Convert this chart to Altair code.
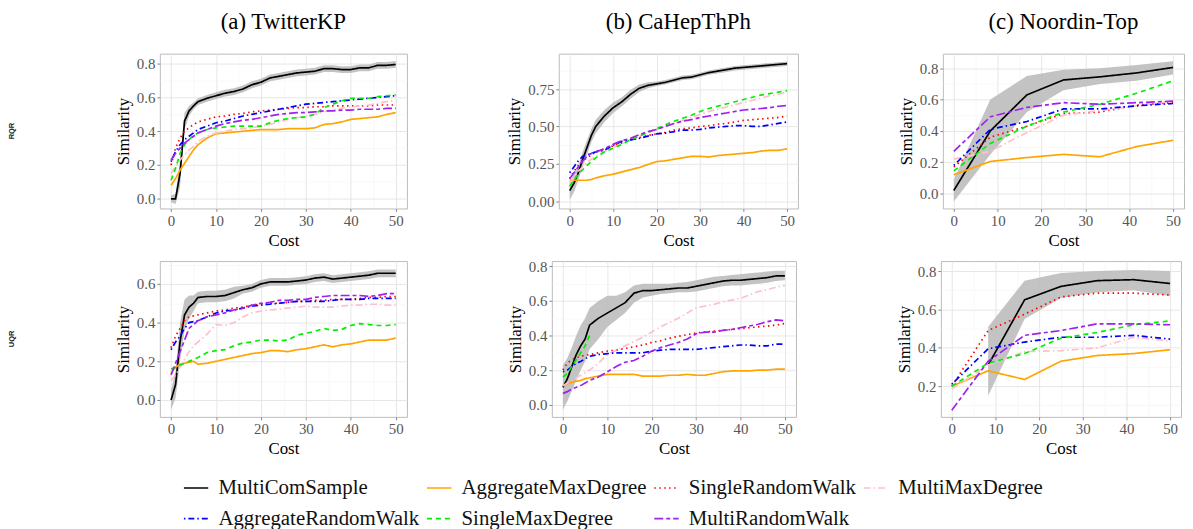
import json
import pandas as pd
import altair as alt

FONT = "Liberation Serif"

METHODS = ["MultiComSample", "AggregateMaxDegree", "SingleRandomWalk", "MultiMaxDegree",
           "AggregateRandomWalk", "SingleMaxDegree", "MultiRandomWalk"]
COLORS = ["#000000", "#FFA500", "#FF0000", "#FFC0CB", "#0000FF", "#00EE00", "#A020F0"]
DASHES = [[1, 0], [1, 0], [1.5, 3.5], [7, 3, 1.5, 3], [1.5, 3, 6, 3], [5, 4], [9, 3, 4, 3]]

X_MAJOR = [0, 10, 20, 30, 40, 50]
X_MINOR = [5, 15, 25, 35, 45]

XA = [0, 1, 2, 3, 4, 5, 6, 8, 10, 12, 14, 16, 18, 20, 22, 24, 26, 28, 30, 32, 34, 36, 38, 40, 42, 44, 46, 48, 50]
XN = [0, 8.33, 16.67, 25, 33.33, 41.67, 50]

# ---------------- RQR / TwitterKP ----------------
A1 = {
    "MultiComSample": [0.0, 0.0, 0.15, 0.46, 0.52, 0.55, 0.575, 0.595, 0.61, 0.625, 0.635, 0.65, 0.675, 0.69, 0.715,
                       0.725, 0.735, 0.745, 0.75, 0.755, 0.77, 0.77, 0.765, 0.765, 0.775, 0.775, 0.79, 0.79, 0.795],
    "AggregateMaxDegree": [0.08, 0.12, 0.17, 0.21, 0.25, 0.29, 0.32, 0.36, 0.385, 0.39, 0.395, 0.40, 0.405, 0.41, 0.41,
                           0.41, 0.415, 0.415, 0.415, 0.42, 0.44, 0.445, 0.455, 0.47, 0.475, 0.48, 0.485, 0.50, 0.51],
    "SingleRandomWalk": [0.20, 0.30, 0.36, 0.40, 0.42, 0.44, 0.455, 0.47, 0.485, 0.49, 0.50, 0.505, 0.515, 0.52, 0.525,
                         0.53, 0.535, 0.54, 0.54, 0.545, 0.545, 0.55, 0.55, 0.55, 0.55, 0.55, 0.555, 0.555, 0.555],
    "MultiMaxDegree": [0.15, 0.19, 0.23, 0.26, 0.29, 0.31, 0.34, 0.37, 0.39, 0.40, 0.41, 0.415, 0.42, 0.43, 0.44,
                       0.455, 0.47, 0.48, 0.49, 0.50, 0.515, 0.525, 0.535, 0.545, 0.55, 0.555, 0.565, 0.575, 0.58],
    "AggregateRandomWalk": [0.22, 0.28, 0.32, 0.35, 0.37, 0.39, 0.41, 0.43, 0.45, 0.46, 0.475, 0.49, 0.50, 0.51, 0.52,
                            0.53, 0.54, 0.55, 0.56, 0.565, 0.57, 0.575, 0.58, 0.585, 0.59, 0.595, 0.60, 0.605, 0.61],
    "SingleMaxDegree": [0.11, 0.18, 0.27, 0.32, 0.35, 0.375, 0.39, 0.41, 0.42, 0.425, 0.43, 0.43, 0.43, 0.43, 0.45,
                        0.465, 0.475, 0.48, 0.485, 0.50, 0.54, 0.56, 0.58, 0.595, 0.595, 0.595, 0.605, 0.61, 0.615],
    "MultiRandomWalk": [0.23, 0.27, 0.30, 0.33, 0.35, 0.37, 0.39, 0.41, 0.43, 0.445, 0.455, 0.465, 0.47, 0.48, 0.49,
                        0.50, 0.505, 0.51, 0.51, 0.515, 0.52, 0.52, 0.525, 0.525, 0.53, 0.53, 0.53, 0.535, 0.535],
}
A1_HALF = [0.02, 0.03, 0.08, 0.05, 0.03, 0.02, 0.02, 0.02, 0.02, 0.02, 0.02, 0.02, 0.02, 0.02, 0.02,
           0.02, 0.02, 0.02, 0.02, 0.02, 0.02, 0.02, 0.02, 0.02, 0.02, 0.02, 0.02, 0.02, 0.02]

# ---------------- RQR / CaHepThPh ----------------
B1 = {
    "MultiComSample": [0.07, 0.12, 0.19, 0.28, 0.36, 0.44, 0.50, 0.57, 0.625, 0.665, 0.715, 0.755, 0.775, 0.785, 0.795,
                       0.81, 0.825, 0.83, 0.845, 0.86, 0.87, 0.88, 0.89, 0.895, 0.90, 0.905, 0.91, 0.915, 0.92],
    "AggregateMaxDegree": [0.14, 0.14, 0.14, 0.14, 0.14, 0.145, 0.155, 0.17, 0.18, 0.195, 0.21, 0.225, 0.245, 0.265, 0.27,
                           0.28, 0.29, 0.30, 0.30, 0.295, 0.305, 0.31, 0.315, 0.32, 0.325, 0.335, 0.34, 0.34, 0.35],
    "SingleRandomWalk": [0.15, 0.20, 0.24, 0.27, 0.29, 0.31, 0.33, 0.35, 0.37, 0.39, 0.41, 0.425, 0.44, 0.45, 0.46,
                         0.475, 0.485, 0.49, 0.50, 0.505, 0.515, 0.52, 0.53, 0.54, 0.545, 0.55, 0.555, 0.56, 0.57],
    "MultiMaxDegree": [0.12, 0.16, 0.20, 0.23, 0.26, 0.28, 0.30, 0.33, 0.36, 0.385, 0.41, 0.435, 0.46, 0.48, 0.50,
                       0.52, 0.54, 0.56, 0.58, 0.60, 0.615, 0.63, 0.645, 0.66, 0.675, 0.69, 0.705, 0.715, 0.73],
    "AggregateRandomWalk": [0.19, 0.23, 0.27, 0.30, 0.31, 0.32, 0.33, 0.34, 0.375, 0.40, 0.41, 0.42, 0.435, 0.45, 0.455,
                            0.465, 0.475, 0.475, 0.48, 0.49, 0.495, 0.50, 0.505, 0.505, 0.50, 0.50, 0.51, 0.52, 0.53],
    "SingleMaxDegree": [0.10, 0.14, 0.18, 0.21, 0.24, 0.265, 0.29, 0.33, 0.355, 0.38, 0.41, 0.435, 0.46, 0.485, 0.51,
                        0.535, 0.555, 0.575, 0.60, 0.62, 0.635, 0.65, 0.665, 0.68, 0.695, 0.71, 0.72, 0.73, 0.74],
    "MultiRandomWalk": [0.15, 0.19, 0.23, 0.27, 0.30, 0.32, 0.33, 0.35, 0.38, 0.405, 0.42, 0.445, 0.465, 0.48, 0.50,
                        0.52, 0.535, 0.545, 0.56, 0.57, 0.58, 0.59, 0.60, 0.61, 0.615, 0.62, 0.625, 0.635, 0.64],
}
B1_HALF = [0.06, 0.06, 0.05, 0.05, 0.05, 0.045, 0.045, 0.04, 0.035, 0.03, 0.03, 0.025, 0.02, 0.015, 0.015,
           0.015, 0.015, 0.015, 0.015, 0.015, 0.015, 0.015, 0.015, 0.015, 0.015, 0.015, 0.015, 0.015, 0.015]

# ---------------- RQR / Noordin-Top ----------------
C1 = {
    "MultiComSample": [0.02, 0.40, 0.63, 0.725, 0.745, 0.77, 0.805],
    "AggregateMaxDegree": [0.12, 0.205, 0.23, 0.25, 0.235, 0.30, 0.34],
    "SingleRandomWalk": [0.17, 0.36, 0.43, 0.51, 0.52, 0.565, 0.58],
    "MultiMaxDegree": [0.22, 0.27, 0.39, 0.50, 0.53, 0.56, 0.59],
    "AggregateRandomWalk": [0.18, 0.41, 0.46, 0.54, 0.54, 0.56, 0.575],
    "SingleMaxDegree": [0.145, 0.32, 0.43, 0.52, 0.57, 0.64, 0.72],
    "MultiRandomWalk": [0.27, 0.49, 0.55, 0.58, 0.57, 0.58, 0.59],
}
C1_LO = [-0.05, 0.25, 0.52, 0.66, 0.70, 0.72, 0.76]
C1_HI = [0.09, 0.60, 0.75, 0.79, 0.80, 0.82, 0.845]

# ---------------- UQR / TwitterKP ----------------
A2 = {
    "MultiComSample": [0.0, 0.08, 0.30, 0.44, 0.48, 0.50, 0.53, 0.535, 0.535, 0.54, 0.555, 0.57, 0.58, 0.60, 0.61,
                       0.61, 0.61, 0.615, 0.62, 0.63, 0.635, 0.625, 0.63, 0.635, 0.64, 0.645, 0.655, 0.655, 0.655],
    "AggregateMaxDegree": [0.14, 0.17, 0.185, 0.19, 0.195, 0.20, 0.185, 0.19, 0.20, 0.21, 0.22, 0.23, 0.24, 0.245, 0.255,
                           0.255, 0.25, 0.26, 0.265, 0.275, 0.285, 0.275, 0.285, 0.29, 0.30, 0.31, 0.31, 0.31, 0.32],
    "SingleRandomWalk": [0.27, 0.33, 0.37, 0.41, 0.43, 0.435, 0.44, 0.45, 0.46, 0.465, 0.475, 0.48, 0.49, 0.495, 0.50,
                         0.50, 0.505, 0.51, 0.51, 0.515, 0.515, 0.52, 0.52, 0.52, 0.525, 0.53, 0.53, 0.535, 0.535],
    "MultiMaxDegree": [0.10, 0.13, 0.17, 0.21, 0.25, 0.28, 0.30, 0.34, 0.39, 0.385, 0.40, 0.43, 0.45, 0.46, 0.465,
                       0.47, 0.475, 0.48, 0.485, 0.48, 0.48, 0.48, 0.485, 0.49, 0.49, 0.495, 0.495, 0.49, 0.49],
    "AggregateRandomWalk": [0.26, 0.30, 0.33, 0.37, 0.40, 0.405, 0.41, 0.43, 0.45, 0.46, 0.465, 0.475, 0.485, 0.49, 0.495,
                            0.50, 0.505, 0.51, 0.51, 0.51, 0.51, 0.515, 0.52, 0.52, 0.52, 0.525, 0.525, 0.525, 0.525],
    "SingleMaxDegree": [0.16, 0.17, 0.18, 0.19, 0.20, 0.21, 0.22, 0.245, 0.255, 0.26, 0.28, 0.295, 0.30, 0.31, 0.31,
                        0.305, 0.31, 0.335, 0.345, 0.355, 0.37, 0.36, 0.365, 0.385, 0.395, 0.39, 0.385, 0.385, 0.39],
    "MultiRandomWalk": [0.13, 0.19, 0.25, 0.31, 0.37, 0.39, 0.41, 0.43, 0.44, 0.45, 0.465, 0.475, 0.49, 0.50, 0.505,
                        0.515, 0.515, 0.52, 0.52, 0.53, 0.535, 0.54, 0.54, 0.54, 0.54, 0.535, 0.54, 0.55, 0.55],
}
A2_HALF = [0.05, 0.07, 0.10, 0.08, 0.06, 0.04, 0.03, 0.03, 0.03, 0.03, 0.03, 0.02, 0.02, 0.02, 0.02,
           0.02, 0.02, 0.02, 0.02, 0.02, 0.02, 0.02, 0.02, 0.02, 0.02, 0.02, 0.02, 0.02, 0.02]

# ---------------- UQR / CaHepThPh ----------------
B2 = {
    "MultiComSample": [0.10, 0.15, 0.22, 0.29, 0.34, 0.38, 0.46, 0.50, 0.53, 0.56, 0.59, 0.645, 0.66, 0.66, 0.665,
                       0.67, 0.675, 0.675, 0.685, 0.695, 0.705, 0.715, 0.72, 0.72, 0.725, 0.73, 0.735, 0.745, 0.745],
    "AggregateMaxDegree": [0.11, 0.12, 0.13, 0.135, 0.14, 0.15, 0.155, 0.165, 0.175, 0.175, 0.175, 0.175, 0.165, 0.165,
                           0.165, 0.17, 0.17, 0.175, 0.17, 0.17, 0.18, 0.19, 0.195, 0.195, 0.195, 0.20, 0.20, 0.205, 0.205],
    "SingleRandomWalk": [0.20, 0.24, 0.26, 0.27, 0.28, 0.285, 0.29, 0.30, 0.31, 0.315, 0.325, 0.335, 0.345, 0.36, 0.37,
                         0.385, 0.395, 0.405, 0.415, 0.42, 0.425, 0.43, 0.435, 0.44, 0.445, 0.45, 0.455, 0.46, 0.47],
    "MultiMaxDegree": [0.11, 0.125, 0.14, 0.155, 0.17, 0.185, 0.20, 0.24, 0.29, 0.315, 0.34, 0.365, 0.39, 0.42, 0.45,
                       0.475, 0.50, 0.53, 0.56, 0.57, 0.58, 0.595, 0.605, 0.615, 0.635, 0.655, 0.665, 0.68, 0.69],
    "AggregateRandomWalk": [0.19, 0.20, 0.22, 0.24, 0.25, 0.265, 0.28, 0.29, 0.295, 0.30, 0.30, 0.30, 0.30, 0.31, 0.315,
                            0.32, 0.32, 0.32, 0.32, 0.325, 0.33, 0.335, 0.34, 0.345, 0.345, 0.34, 0.34, 0.35, 0.35],
    "SingleMaxDegree": [0.16, 0.18, 0.22, 0.26, 0.30, 0.34, 0.40, None, None, None, None, None, None, None, None,
                        None, None, None, None, None, None, None, None, None, None, None, None, None, None],
    "MultiRandomWalk": [0.065, 0.075, 0.09, 0.10, 0.11, 0.125, 0.14, 0.16, 0.19, 0.22, 0.245, 0.255, 0.28, 0.31, 0.33,
                        0.345, 0.36, 0.38, 0.41, 0.42, 0.42, 0.43, 0.435, 0.445, 0.455, 0.465, 0.48, 0.49, 0.485],
}
B2_LO = [-0.03, 0.02, 0.08, 0.14, 0.20, 0.25, 0.32, 0.38, 0.45, 0.49, 0.53, 0.59, 0.62, 0.63, 0.64,
         0.645, 0.65, 0.65, 0.655, 0.665, 0.675, 0.685, 0.69, 0.69, 0.695, 0.70, 0.705, 0.715, 0.72]
B2_HI = [0.23, 0.27, 0.33, 0.40, 0.46, 0.50, 0.56, 0.60, 0.63, 0.63, 0.65, 0.69, 0.70, 0.70, 0.70,
         0.70, 0.705, 0.71, 0.72, 0.73, 0.74, 0.745, 0.75, 0.755, 0.76, 0.765, 0.77, 0.775, 0.775]

# ---------------- UQR / Noordin-Top ----------------
C2 = {
    "MultiComSample": [None, 0.31, 0.65, 0.72, 0.75, 0.755, 0.735],
    "AggregateMaxDegree": [0.20, 0.28, 0.235, 0.33, 0.36, 0.37, 0.39],
    "SingleRandomWalk": [0.20, 0.49, 0.575, 0.665, 0.685, 0.685, 0.675],
    "MultiMaxDegree": [0.185, 0.31, 0.38, 0.385, 0.40, 0.455, 0.435],
    "AggregateRandomWalk": [0.21, 0.395, 0.43, 0.455, 0.455, 0.465, 0.445],
    "SingleMaxDegree": [0.20, 0.32, 0.37, 0.45, 0.48, 0.52, 0.54],
    "MultiRandomWalk": [0.075, 0.33, 0.465, 0.49, 0.525, 0.525, 0.52],
}
C2_LO = [None, 0.15, 0.55, 0.66, 0.69, 0.70, 0.67]
C2_HI = [None, 0.51, 0.75, 0.79, 0.80, 0.805, 0.80]


def long_df(xs, series):
    rows = []
    for m in METHODS:
        for x, v in zip(xs, series[m]):
            if v is not None:
                rows.append({"Cost": x, "Similarity": v, "Method": m})
    return pd.DataFrame(rows)


def band_df(xs, lo, hi):
    rows = [{"Cost": x, "lo": a, "hi": b} for x, a, b in zip(xs, lo, hi) if a is not None]
    return pd.DataFrame(rows)


def band_from_half(xs, mean, half):
    lo = [m - h for m, h in zip(mean, half)]
    hi = [m + h for m, h in zip(mean, half)]
    return band_df(xs, lo, hi)


def cond_axis(major, minor, title, fmt=None):
    vals = sorted(major + minor)
    test = "indexof(%s, datum.value) >= 0" % json.dumps(major)
    kw = dict(
        values=vals,
        title=title,
        labelExpr="(%s) ? datum.label : ''" % test,
        gridColor={"condition": {"test": test, "value": "#E4E4E4"}, "value": "#F4F4F4"},
        gridWidth={"condition": {"test": test, "value": 0.9}, "value": 0.6},
        tickOpacity={"condition": {"test": test, "value": 1}, "value": 0},
        labelOverlap=False,
        labelFlush=False,
    )
    if fmt:
        kw["format"] = fmt
    return alt.Axis(**kw)


LEGEND = alt.Legend(
    orient="none", legendX=172, legendY=424, columns=4, direction="horizontal", title=None,
    symbolType="stroke", symbolSize=600, symbolStrokeWidth=1.6, labelFont=FONT, labelFontSize=21,
    labelColor="#111111", labelOffset=9, labelLimit=400, rowPadding=7, columnPadding=4, padding=0,
)


def panel(series, xs, band, ydom, ymaj, ymin, fmt, w, h, title=None):
    xax = cond_axis(X_MAJOR, X_MINOR, "Cost")
    yax = cond_axis(ymaj, ymin, "Similarity", fmt)
    xsc = alt.Scale(domain=[-2.5, 52.5], nice=False, zero=False)
    ysc = alt.Scale(domain=ydom, nice=False, zero=False)
    b = alt.Chart(band).mark_area(color="#BDBDBD", opacity=0.9, clip=True).encode(
        x=alt.X("Cost:Q", scale=xsc, axis=xax, title="Cost"),
        y=alt.Y("lo:Q", scale=ysc, axis=yax, title="Similarity"),
        y2="hi:Q",
    )
    ln = alt.Chart(long_df(xs, series)).mark_line(strokeWidth=1.7, clip=True).encode(
        x=alt.X("Cost:Q", scale=xsc, axis=xax, title="Cost"),
        y=alt.Y("Similarity:Q", scale=ysc, axis=yax, title="Similarity"),
        color=alt.Color("Method:N", scale=alt.Scale(domain=METHODS, range=COLORS), legend=LEGEND),
        strokeDash=alt.StrokeDash("Method:N", scale=alt.Scale(domain=METHODS, range=DASHES), legend=LEGEND),
        detail="Method:N",
    )
    props = dict(width=w, height=h)
    if title:
        props["title"] = alt.TitleParams(text=title, font=FONT, fontSize=23, fontWeight="normal",
                                         anchor="middle", offset=20, color="#000000")
    return alt.layer(b, ln).properties(**props)


def row_label(txt, h):
    return alt.Chart(pd.DataFrame({"t": [txt]})).mark_text(
        angle=270, font="Liberation Sans", fontSize=7.5, fontWeight="bold", color="#222222"
    ).encode(text="t:N").properties(width=1, height=h, view=alt.ViewBackground(stroke=None))


Y8 = [0.0, 0.2, 0.4, 0.6, 0.8]
Y8m = [0.1, 0.3, 0.5, 0.7]

pa1 = panel(A1, XA, band_from_half(XA, A1["MultiComSample"], A1_HALF), [-0.057, 0.859], Y8, Y8m, ".1f", 249, 156,
            "(a) TwitterKP")
pb1 = panel(B1, XA, band_from_half(XA, B1["MultiComSample"], B1_HALF), [-0.049, 0.987], [0.0, 0.25, 0.5, 0.75],
            [0.125, 0.375, 0.625, 0.875], ".2f", 241, 156, "(b) CaHepThPh")
pc1 = panel(C1, XN, band_df(XN, C1_LO, C1_HI), [-0.095, 0.893], Y8, Y8m, ".1f", 243, 156, "(c) Noordin-Top")

pa2 = panel(A2, XA, band_from_half(XA, A2["MultiComSample"], A2_HALF), [-0.087, 0.718], [0.0, 0.2, 0.4, 0.6],
            [0.1, 0.3, 0.5, 0.7], ".1f", 249, 157)
pb2 = panel(B2, XA, band_df(XA, B2_LO, B2_HI), [-0.071, 0.831], Y8, Y8m, ".1f", 246, 157)
pc2 = panel(C2, XN, band_df(XN, C2_LO, C2_HI), [0.04, 0.852], [0.2, 0.4, 0.6, 0.8], [0.1, 0.3, 0.5, 0.7], ".1f",
            242, 157)

row1 = alt.hconcat(row_label("RQR", 156), pa1, pb1, pc1, spacing=98)
row2 = alt.hconcat(row_label("UQR", 157), pa2, pb2, pc2, spacing=98)

chart = (
    alt.vconcat(row1, row2, spacing=8)
    .properties(padding=0, background="white")
    .configure_view(stroke="#BBBBBB", strokeWidth=1)
    .configure_axis(
        labelFont=FONT, titleFont=FONT, labelFontSize=15, titleFontSize=17, labelColor="#555555",
        titleColor="#000000", tickColor="#888888", tickSize=3, labelPadding=2, titlePadding=4,
        domain=False, titleFontWeight="normal",
    )
)

chart.save("out.html", embed_options={"renderer": "svg", "actions": False})
